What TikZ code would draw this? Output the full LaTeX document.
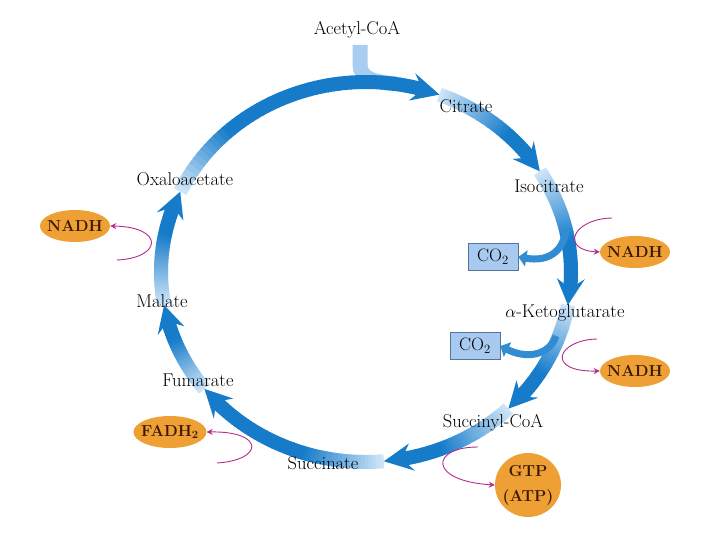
\documentclass[tikz,border=0pt]{standalone}
\usetikzlibrary{shapes.geometric,arrows.meta}
\definecolor{ringdark}{RGB}{22,124,202}
\definecolor{ringlight}{RGB}{205,228,248}
\definecolor{barblue}{RGB}{168,205,240}
\definecolor{nadhfill}{RGB}{238,160,52}
\definecolor{nadhtext}{RGB}{60,25,5}
\definecolor{cofill}{RGB}{168,202,240}
\definecolor{codraw}{RGB}{85,115,155}
\definecolor{redox}{RGB}{178,45,140}
\newcommand\ringseg[2]{%
  \pgfmathsetmacro\sgA{#1}%
  \pgfmathsetmacro\sgE{#2+5}%
  \pgfmathsetmacro\sgG{min(0.6*(#1-#2),22)}%
  \foreach \k in {0,...,47}{%
    \pgfmathsetmacro\aa{\sgA-(\sgA-\sgE)*\k/48}%
    \pgfmathsetmacro\ab{\sgA-(\sgA-\sgE)*(\k+1)/48-0.25}%
    \pgfmathtruncatemacro\pp{min(100,100*(\sgA-\aa)/\sgG)}%
    \draw[line width=14pt, draw=ringdark!\pp!ringlight] plot[domain=\aa:\ab,samples=3] ({366+205*cos(\x)},{272-190*sin(\x)});
  }%
}
\newcommand\ringtip[1]{%
  \fill[ringdark] ({366+205*cos(#1)},{272-190*sin(#1)})
    -- ({366+219*cos(#1+8)},{272-204*sin(#1+8)})
    -- ({366+205*cos(#1+5)},{272-190*sin(#1+5)})
    -- ({366+191*cos(#1+8)},{272-176*sin(#1+8)}) -- cycle;
}
\tikzset{
  metab/.style={font=\fontsize{18.5}{22}\selectfont, inner sep=1pt, text=black},
  nadh/.style={ellipse, fill=nadhfill, text=nadhtext, font=\bfseries\fontsize{16}{19}\selectfont, minimum width=70pt, minimum height=32pt, inner xsep=-3pt, inner ysep=0pt},
  cobox/.style={rectangle, fill=cofill, draw=codraw, line width=0.8pt, minimum width=50pt, minimum height=27pt, inner sep=0pt, font=\fontsize{18}{21}\selectfont},
  redoxarr/.style={draw=redox, line width=0.9pt, -{Stealth[length=6pt,width=6pt]}},
  branch/.style={draw=ringdark!85!ringlight, line width=7pt, -{Triangle[length=8pt,width=16pt]}}
}
\begin{document}
\begin{tikzpicture}[x=1pt,y=-1pt]
\useasboundingbox (0,0) rectangle (720,540);
\fill[white] (0,0) rectangle (720,540);
% acetyl-CoA entry
\coordinate (acin) at (360,45);
\coordinate (acjoin) at (396,84);
\draw[line width=15pt, barblue] (acin) -- (360,64) .. controls (360,78) and (372,82) .. (acjoin);
% ring segments
\ringseg{155}{69}
\ringseg{69}{32}
\ringseg{32}{-10}
\ringseg{-10}{-46}
\ringseg{-46}{-85}
\ringseg{-85}{-142}
\ringseg{-142}{-170}
\ringseg{-170}{-205}
\ringtip{69}
\ringtip{32}
\ringtip{-10}
\ringtip{-46}
\ringtip{-85}
\ringtip{-142}
\ringtip{-170}
\ringtip{-205}
% CO2 boxes and branches
\node[cobox] (co2a) at (493,257) {CO\textsubscript{2}};
\node[cobox] (co2b) at (475,346) {CO\textsubscript{2}};
\coordinate (bra) at (566,230);
\coordinate (brb) at (556,336);
\draw[branch] (bra) .. controls (563,252) and (548,262) .. (co2a.east);
\draw[branch] (brb) .. controls (549,356) and (526,359) .. (co2b.east);
% labels
\node[metab] (acoa) at (357,30) {Acetyl-CoA};
\node[metab] (cit) at (466,106) {Citrate};
\node[metab] (iso) at (549,186) {Isocitrate};
\node[metab] (akg) at (565,313) {$\alpha$-Ketoglutarate};
\node[metab] (scoa) at (493,423) {Succinyl-CoA};
\node[metab] (succ) at (323,463) {Succinate};
\node[metab] (fum) at (198,380) {Fumarate};
\node[metab] (mal) at (162,301) {Malate};
\node[metab] (oxa) at (185,179) {Oxaloacetate};
% energy carriers
\node[nadh] (nadhL) at (75,226) {NADH};
\node[nadh] (nadh1) at (635,252) {NADH};
\node[nadh] (nadh2) at (635,371) {NADH};
\node[nadh] (fadh) at (170,432) {FADH\textsubscript{2}};
\node[nadh, minimum width=66pt, minimum height=64pt, align=center] (gtp) at (528,485) {GTP\\[6pt](ATP)};
% redox arrows
\coordinate (r1) at (612,218);
\coordinate (r2) at (597,339);
\coordinate (rL) at (117,260);
\coordinate (rF) at (217,463);
\coordinate (rG) at (478,447);
\draw[redoxarr] (r1) .. controls (572,219) and (560,250) .. (nadh1.west);
\draw[redoxarr] (r2) .. controls (557,340) and (545,372) .. (nadh2.west);
\draw[redoxarr] (rL) .. controls (162,258) and (165,227) .. (nadhL.east);
\draw[redoxarr] (rF) .. controls (264,460) and (265,431) .. (fadh.east);
\draw[redoxarr] (rG) .. controls (430,447) and (428,481) .. (gtp.west);
\end{tikzpicture}
\end{document}
